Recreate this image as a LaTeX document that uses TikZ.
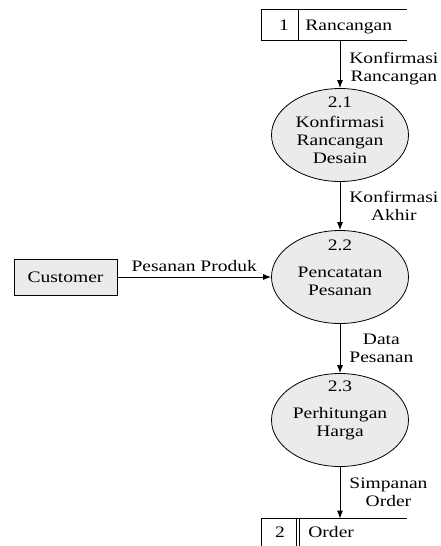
\documentclass[tikz,border=0pt]{standalone}
\usepackage{fontspec}
\setmainfont{Liberation Serif}[FakeStretch=1.22]
\usetikzlibrary{arrows.meta}
\usetikzlibrary{shapes.geometric}
\definecolor{procgray}{HTML}{EBEBEB}

\begin{document}
\begin{tikzpicture}[x=1pt,y=-1pt,->,>={Latex[length=8pt,width=6pt]},line width=0.8pt,
		font=\fontsize{16}{18}\selectfont,
		proc/.style={draw,ellipse,fill=procgray,minimum width=137pt,minimum height=93pt,inner sep=0pt},
		entity/.style={draw,fill=procgray,minimum width=103pt,minimum height=36pt,inner sep=0pt},
		store/.style={minimum width=145pt,minimum height=30pt,inner sep=0pt},
		flow/.style={midway,right=9pt,align=center,inner sep=0pt}]
		\useasboundingbox (0,0) rectangle (441,546);
		% data store 1
		\node[store] (d1) at (334.5,25) {};
		\draw[-] (d1.north east) -- (d1.north west) -- (d1.south west) -- (d1.south east);
		\draw[-] (298,10) -- (298,40);
		\node[anchor=base] (d1n) at (284,30) {1};
		\node[anchor=base west,inner sep=0pt] (d1t) at (305,30) {Rancangan};
		% processes
		\node[proc] (p21) at (340,135) {};
		\node[anchor=base] (n21) at ([yshift=-19pt]p21.north) {2.1};
		\node[align=center] (t21) at ([yshift=-5pt]p21.center) {Konfirmasi\\Rancangan\\Desain};
		\node[proc] (p22) at (340,277) {};
		\node[anchor=base] (n22) at ([yshift=-20pt]p22.north) {2.2};
		\node[align=center] (t22) at ([yshift=-4pt]p22.center) {Pencatatan\\Pesanan};
		\node[proc] (p23) at (340,420) {};
		\node[anchor=base] (n23) at ([yshift=-18pt]p23.north) {2.3};
		\node[align=center] (t23) at ([yshift=-4pt]p23.center) {Perhitungan\\Harga};
		% customer
		\node[entity] (cust) at (65.5,277) {Customer};
		% data store 2
		\node[store,minimum height=27pt] (d2) at (334.5,532.5) {};
		\draw[-] (d2.north east) -- (d2.north west) -- (d2.south west);
		\draw[-] (296,519) -- (296,546) (299,519) -- (299,546);
		\node[anchor=base] (d2n) at (280,537) {2};
		\node[anchor=base west,inner sep=0pt] (d2t) at (308,537) {Order};
		% flows
		\draw (p21.north |- d1.south) -- (p21) node[flow,yshift=-4pt] {Konfirmasi\\Rancangan};
		\draw (p21) -- (p22) node[flow] {Konfirmasi\\Akhir};
		\draw (cust) -- (p22) node[midway,above=2pt] {Pesanan Produk};
		\draw (p22) -- (p23) node[flow] {Data\\Pesanan};
		\draw (p23) -- (p23.south |- d2.north) node[flow] {Simpanan\\Order};
		\end{tikzpicture}
\end{document}
